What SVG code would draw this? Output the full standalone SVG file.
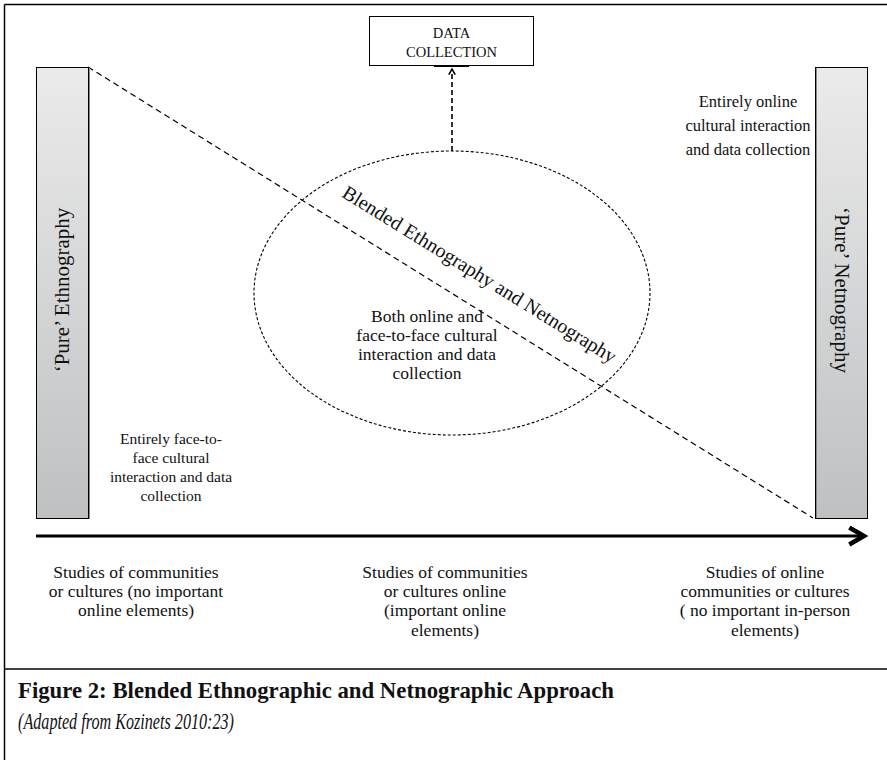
<svg xmlns="http://www.w3.org/2000/svg" width="887" height="760" viewBox="0 0 887 760">
<defs>
<linearGradient id="barg" x1="0" y1="0" x2="0" y2="1">
<stop offset="0" stop-color="#ebebeb"/>
<stop offset="1" stop-color="#bec0c2"/>
</linearGradient>
<marker id="chev" viewBox="0 0 10 10" refX="8" refY="5" markerWidth="5" markerHeight="5" orient="auto" markerUnits="strokeWidth">
<path d="M1,1 L8,5 L1,9" fill="none" stroke="#000" stroke-width="2"/>
</marker>
<marker id="chev2" viewBox="0 0 10 10" refX="8" refY="5" markerWidth="7" markerHeight="7" orient="auto" markerUnits="strokeWidth">
<path d="M1,1 L8,5 L1,9" fill="none" stroke="#000" stroke-width="2.2"/>
</marker>
</defs>
<style>
.t{font-family:"Liberation Serif","Times New Roman",serif;fill:#111;}
.body{font-size:17.5px;text-anchor:middle;}
.mid{font-size:16.5px;text-anchor:middle;}
.small{font-size:15.5px;text-anchor:middle;}
.bar{fill:url(#barg);stroke:#000;stroke-width:1;}
</style>
<rect x="0" y="0" width="887" height="760" fill="#fff"/>
<g id="frame" fill="none" stroke="#000" stroke-width="1.5">
<path d="M4.5,4.5 H887 M4.5,4.5 V760 M4.5,669 H887"/>
</g>
<g id="connectors" fill="none" stroke="#000">
<line x1="88" y1="67" x2="813" y2="518" stroke-width="1.2" stroke-dasharray="6,4"/>
<line x1="452" y1="151" x2="452" y2="69" stroke-width="1.6" stroke-dasharray="5,3" marker-end="url(#chev)"/>
<line x1="36" y1="536" x2="864" y2="536" stroke-width="3" marker-end="url(#chev2)"/>
</g>
<g id="data-collection">
<rect x="369.5" y="16.5" width="164" height="49" fill="#fff" stroke="#000" stroke-width="1"/>
<line x1="434" y1="66" x2="469" y2="66" stroke="#000" stroke-width="2"/>
<text class="t" x="451.5" y="38" font-size="14.5" text-anchor="middle">DATA</text>
<text class="t" x="451.5" y="57" font-size="14.5" text-anchor="middle">COLLECTION</text>
</g>
<g id="pure-ethnography">
<rect class="bar" x="36.5" y="67.5" width="52" height="451"/>
<line x1="89.5" y1="68" x2="89.5" y2="519" stroke="#888" stroke-width="1"/>
<text class="t" transform="translate(69,290) rotate(-90)" font-size="21" text-anchor="middle">‘Pure’ Ethnography</text>
</g>
<g id="pure-netnography">
<rect class="bar" x="815.5" y="67.5" width="52" height="451"/>
<line x1="816.5" y1="68" x2="816.5" y2="518" stroke="#888" stroke-width="1"/>
<text class="t" transform="translate(835,290) rotate(90)" font-size="21" text-anchor="middle">‘Pure’ Netnography</text>
</g>
<g id="blended">
<ellipse cx="452" cy="293" rx="198" ry="142" fill="none" stroke="#000" stroke-width="1.1" stroke-dasharray="3,2"/>
<text class="t" transform="translate(476,280) rotate(31.8)" font-size="20" text-anchor="middle">Blended Ethnography and Netnography</text>
<text class="t body" x="427" y="322">Both online and</text>
<text class="t body" x="427" y="341">face-to-face cultural</text>
<text class="t body" x="427" y="360">interaction and data</text>
<text class="t body" x="427" y="379">collection</text>
</g>
<g id="online-label">
<text class="t mid" x="748" y="107">Entirely online</text>
<text class="t mid" x="748" y="131">cultural interaction</text>
<text class="t mid" x="748" y="155">and data collection</text>
</g>
<g id="f2f-label">
<text class="t small" x="171" y="444">Entirely face-to-</text>
<text class="t small" x="171" y="463">face cultural</text>
<text class="t small" x="171" y="482">interaction and data</text>
<text class="t small" x="171" y="501">collection</text>
</g>
<g id="axis-labels">
<text class="t body" x="136" y="578">Studies of communities</text>
<text class="t body" x="136" y="597">or cultures (no important</text>
<text class="t body" x="136" y="616">online elements)</text>
<text class="t body" x="445" y="578">Studies of communities</text>
<text class="t body" x="445" y="597">or cultures online</text>
<text class="t body" x="445" y="616">(important online</text>
<text class="t body" x="445" y="636">elements)</text>
<text class="t body" x="765" y="578">Studies of online</text>
<text class="t body" x="765" y="597">communities or cultures</text>
<text class="t body" x="765" y="616">( no important in-person</text>
<text class="t body" x="765" y="636">elements)</text>
</g>
<g id="caption">
<text class="t" x="18" y="698" font-size="23" font-weight="bold" textLength="596" lengthAdjust="spacingAndGlyphs">Figure 2: Blended Ethnographic and Netnographic Approach</text>
<text class="t" x="18" y="729" font-size="24" font-style="italic" textLength="216" lengthAdjust="spacingAndGlyphs">(Adapted from Kozinets 2010:23)</text>
</g>
</svg>
